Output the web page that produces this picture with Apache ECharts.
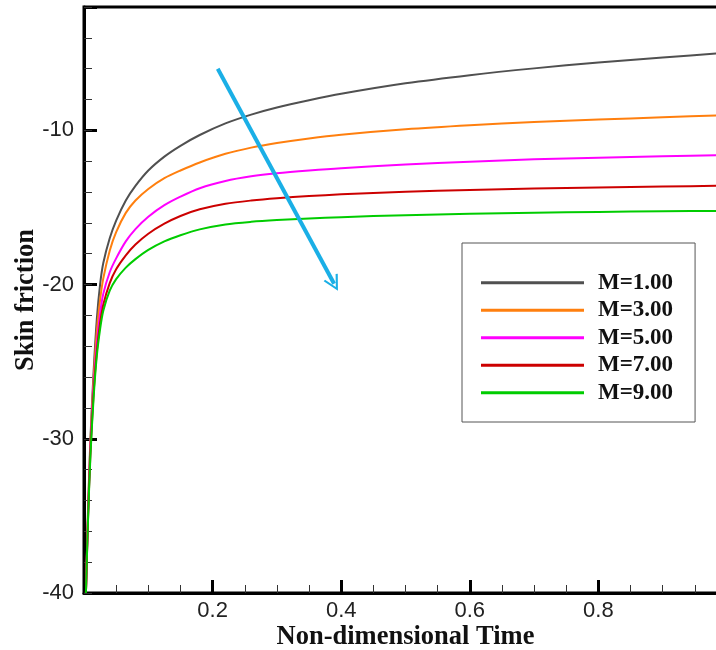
<!DOCTYPE html>
<html>
<head>
<meta charset="utf-8">
<script src="https://cdn.jsdelivr.net/npm/echarts@6/dist/echarts.min.js"></script>
<style>html,body{margin:0;padding:0;background:#fff;}#chart{width:716px;height:650px;}</style>
</head>
<body>
<div id="chart"></div>
<script>
// Non-dimensional time samples
var timeValues = [0.003, 0.006, 0.01, 0.015, 0.02, 0.025, 0.03, 0.04, 0.05, 0.065, 0.08, 0.1, 0.125, 0.15, 0.18, 0.22, 0.26, 0.3, 0.35, 0.4, 0.5, 0.6, 0.7, 0.8, 0.9, 1.0];
// Skin friction for each M
var skinM1 = [-40, -35, -30, -25.6, -22.2, -20.0, -18.6, -17.0, -15.85, -14.55, -13.6, -12.6, -11.7, -11.0, -10.3, -9.55, -8.98, -8.52, -8.05, -7.63, -6.95, -6.42, -5.98, -5.6, -5.27, -4.97];
var skinM3 = [-40, -35.2, -30.3, -26.1, -23.0, -21.0, -19.6, -17.8, -16.6, -15.35, -14.55, -13.8, -13.1, -12.6, -12.08, -11.52, -11.12, -10.82, -10.52, -10.28, -9.93, -9.67, -9.46, -9.3, -9.15, -9.02];
var skinM5 = [-40, -35.4, -30.6, -26.6, -23.8, -21.9, -20.6, -19.2, -18.3, -17.2, -16.4, -15.6, -14.85, -14.3, -13.75, -13.28, -12.98, -12.78, -12.6, -12.45, -12.22, -12.03, -11.88, -11.77, -11.68, -11.6];
var skinM7 = [-40, -35.5, -30.9, -27.0, -24.3, -22.5, -21.3, -19.9, -19.0, -18.1, -17.4, -16.7, -16.05, -15.55, -15.12, -14.76, -14.55, -14.4, -14.26, -14.15, -13.98, -13.86, -13.77, -13.7, -13.64, -13.59];
var skinM9 = [-40, -35.6, -31.1, -27.3, -24.6, -22.9, -21.7, -20.4, -19.65, -18.9, -18.35, -17.75, -17.2, -16.8, -16.42, -16.1, -15.93, -15.82, -15.72, -15.63, -15.5, -15.41, -15.34, -15.29, -15.25, -15.22];
var seriesNames = ['M=1.00', 'M=3.00', 'M=5.00', 'M=7.00', 'M=9.00'];
var seriesColors = ['#505050', '#ff7f0e', '#ff00ff', '#cc0000', '#00cc00'];
// Arrow annotation (data coordinates): start and end
var arrowStart = [0.208, -6.0];
var arrowEnd = [0.389, -19.95];
// Axis ranges
var xRange = [0, 1, 0.2];
var yRange = [-40, -2, 10];

var allValues = [skinM1, skinM3, skinM5, skinM7, skinM9];

function pairs(vals) {
  return timeValues.map(function (t, i) { return [t, vals[i]]; });
}

var series = allValues.map(function (vals, k) {
  return {
    name: seriesNames[k],
    type: 'line',
    data: pairs(vals),
    showSymbol: false,
    smooth: 0.3,
    lineStyle: { color: seriesColors[k], width: 2 },
    itemStyle: { color: seriesColors[k] },
    z: 3
  };
});
series[0].markLine = {
  silent: true,
  animation: false,
  symbol: ['none', 'path://M10,0 L20,17 L17.5,18 L10,5 L2.5,18 L0,17 Z'],
  symbolSize: [16, 16],
  label: { show: false },
  lineStyle: { color: '#1aafe6', width: 4, type: 'solid' },
  data: [[{ coord: arrowStart }, { coord: arrowEnd }]]
};

var chart = echarts.init(document.getElementById('chart'), null, { renderer: 'canvas' });
chart.setOption({
  animation: false,
  backgroundColor: '#fff',
  grid: { left: 84, top: 7, width: 643, height: 586, outerBoundsMode: 'none', containLabel: false, show: true, borderColor: '#000', borderWidth: 3, backgroundColor: 'transparent' },
  legend: {
    data: seriesNames,
    orient: 'vertical',
    left: 462,
    top: 243,
    icon: 'rect',
    itemWidth: 103,
    itemHeight: 3,
    itemGap: 3.5,
    padding: [27.7, 22, 17.3, 19],
    borderColor: '#555',
    borderWidth: 1,
    backgroundColor: '#fff',
    textStyle: { fontFamily: '"Liberation Serif", "Times New Roman", serif', fontWeight: 'bold', fontSize: 23, color: '#111', lineHeight: 24, padding: [0, 0, 0, 9] }
  },
  xAxis: [{
    type: 'value', min: xRange[0], max: xRange[1], interval: xRange[2],
    name: 'Non-dimensional Time', nameLocation: 'middle', nameGap: 31, nameMoveOverlap: false,
    nameTextStyle: { fontFamily: '"Liberation Serif", "Times New Roman", serif', fontWeight: 'bold', fontSize: 26.5, color: '#111' },
    axisLine: { show: true, lineStyle: { color: '#000', width: 3 } },
    axisTick: { show: true, inside: true, length: 13, lineStyle: { color: '#000', width: 3 } },
    minorTick: { show: true, splitNumber: 4, length: 8, lineStyle: { color: '#333', width: 1 } },
    splitLine: { show: false },
    axisLabel: { margin: 7, fontFamily: '"Liberation Sans", Arial, sans-serif', fontSize: 22, color: '#222',
      formatter: function (v) { if (v <= 0.0001 || v >= 0.9999) return ''; return v.toFixed(1); } }
  }],
  yAxis: [{
    type: 'value', min: yRange[0], max: yRange[1], interval: yRange[2],
    name: 'Skin friction', nameLocation: 'middle', nameGap: 44, nameRotate: 90, nameMoveOverlap: false,
    nameTextStyle: { fontFamily: '"Liberation Serif", "Times New Roman", serif', fontWeight: 'bold', fontSize: 26.5, color: '#111' },
    axisLine: { show: true, onZero: false, lineStyle: { color: '#000', width: 3 } },
    axisTick: { show: true, inside: true, length: 13, lineStyle: { color: '#000', width: 3 } },
    minorTick: { show: false },
    splitLine: { show: false },
    axisLabel: { margin: 10, fontFamily: '"Liberation Sans", Arial, sans-serif', fontSize: 22, color: '#222',
      formatter: function (v) { if (v > -5) return ''; return String(v); } }
  }, {
    type: 'value', min: yRange[0], max: yRange[1], interval: 2, position: 'left', offset: 0,
    axisLine: { show: false },
    axisTick: { show: true, inside: true, length: 8, lineStyle: { color: '#333', width: 1 } },
    axisLabel: { show: false },
    splitLine: { show: false }
  }],
  series: series
});
</script>
</body>
</html>
